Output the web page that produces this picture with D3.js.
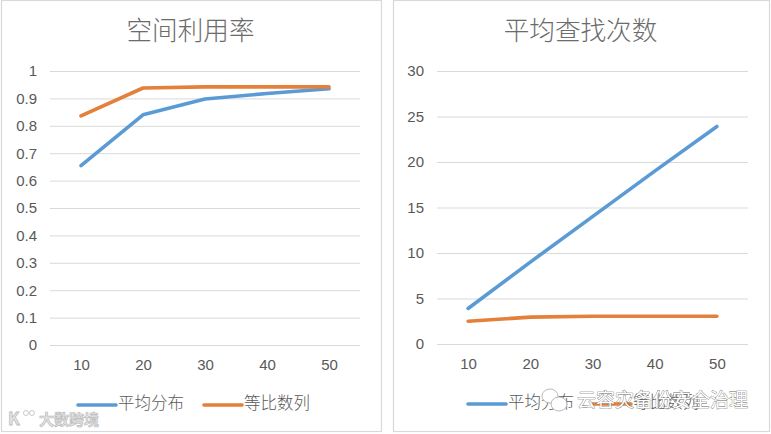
<!DOCTYPE html>
<html lang="zh">
<head>
  <meta charset="UTF-8" />
  <title>空间利用率 / 平均查找次数</title>
  <script src="https://d3js.org/d3.v7.min.js"></script>
  <style>
    html, body { margin: 0; padding: 0; background: #fff; overflow: hidden; }
    svg { display: block; font-family: "Noto Sans CJK SC", "Liberation Sans", sans-serif; }
    .frame { fill: #fff; stroke: #d9d9d9; stroke-width: 1.2px; }
    .title { fill: #6b6b6b; font-size: 25.6px; font-weight: 300; text-anchor: middle; }
    .axis text { fill: #595959; font-size: 15px; font-family: "Liberation Sans", sans-serif; }
    .axis path, .axis line { stroke: none; }
    .axis .tick line.grid { stroke: #d9d9d9; stroke-width: 1px; }
    .legend { fill: #595959; font-size: 16.5px; font-weight: 300; }
    .mark { fill: #e4e4e4; stroke: #bdbdbd; stroke-width: .7px; font-weight: 700; }
  </style>
</head>
<body>
  <svg id="chart" width="771" height="434"></svg>
  <script>
    const categories = [10, 20, 30, 40, 50];
    const seriesNames = ["平均分布", "等比数列"];
    const colors = ["#5b9bd5", "#e4803a"];

    const utilEven = [0.655, 0.84, 0.898, 0.918, 0.935];
    const utilRatio = [0.836, 0.938, 0.942, 0.942, 0.942];
    const utilTicks = [0, 0.1, 0.2, 0.3, 0.4, 0.5, 0.6, 0.7, 0.8, 0.9, 1];

    const findEven = [3.9, 9, 14, 19, 23.9];
    const findRatio = [2.5, 2.95, 3.05, 3.05, 3.05];
    const findTicks = [0, 5, 10, 15, 20, 25, 30];

    const svg = d3.select("#chart");

    function drawPanel(p) {
      const g = svg.append("g");
      g.append("rect").attr("class", "frame")
        .attr("x", p.left).attr("y", p.top).attr("width", p.width).attr("height", p.height);

      g.append("text").attr("class", "title")
        .attr("x", p.left + p.width / 2 - 1).attr("y", 40)
        .text(p.title);

      const x = d3.scalePoint().domain(categories).range(p.xRange).padding(0.5);
      const y = d3.scaleLinear().domain(p.domain).range(p.yRange);

      const yAxis = g.append("g").attr("class", "axis")
        .attr("transform", `translate(${p.xRange[0]},0)`)
        .call(d3.axisLeft(y).tickValues(p.ticks).tickFormat(d => d).tickSize(0).tickPadding(13));
      yAxis.selectAll(".tick").append("line").attr("class", "grid")
        .attr("x1", 0).attr("x2", p.xRange[1] - p.xRange[0]);

      g.append("g").attr("class", "axis")
        .attr("transform", `translate(0,${p.yRange[0]})`)
        .call(d3.axisBottom(x).tickSize(0).tickPadding(14))
        .select(".domain").remove();

      const line = d3.line().x((d, i) => x(categories[i])).y(d => y(d));
      p.series.forEach((values, i) => {
        g.append("path").datum(values)
          .attr("fill", "none").attr("stroke", colors[i]).attr("stroke-width", 3.6)
          .attr("stroke-linecap", "round").attr("stroke-linejoin", "round")
          .attr("d", line);
      });

      // legend
      p.legendX.forEach((lx, i) => {
        g.append("line")
          .attr("x1", lx).attr("x2", lx + 38).attr("y1", p.legendY).attr("y2", p.legendY)
          .attr("stroke", colors[i]).attr("stroke-width", 3.6).attr("stroke-linecap", "round");
        g.append("text").attr("class", "legend")
          .attr("x", lx + 40).attr("y", p.legendY + 4).text(seriesNames[i]);
      });
    }

    drawPanel({
      title: "空间利用率", left: 1.5, top: 0.5, width: 380, height: 431,
      xRange: [50, 360], yRange: [345, 71], domain: [0, 1], ticks: utilTicks,
      series: [utilEven, utilRatio], legendX: [78, 204], legendY: 405
    });
    drawPanel({
      title: "平均查找次数", left: 393.5, top: 0.5, width: 376, height: 431,
      xRange: [437, 748], yRange: [344, 71], domain: [0, 30], ticks: findTicks,
      series: [findEven, findRatio], legendX: [468, 593], legendY: 404
    });

    // watermarks sitting on top of the picture
    const logo = svg.append("g").attr("fill", "#e4e4e4").attr("stroke", "#bdbdbd").attr("stroke-width", .8);
    logo.append("text").attr("x", 8).attr("y", 425).attr("font-size", 17).attr("font-weight", 700).text("K");
    logo.append("circle").attr("cx", 26).attr("cy", 413).attr("r", 2.5).attr("fill", "none");
    logo.append("circle").attr("cx", 32).attr("cy", 413).attr("r", 2.5).attr("fill", "none");
    svg.append("text").attr("class", "mark")
      .attr("x", 39).attr("y", 425).attr("font-size", 15).text("大数跨境");

    const wechat = svg.append("g").attr("fill", "#fff").attr("stroke", "#a8a8a8").attr("stroke-width", .8);
    wechat.append("ellipse").attr("cx", 550).attr("cy", 396).attr("rx", 8).attr("ry", 7);
    wechat.append("ellipse").attr("cx", 559).attr("cy", 404).attr("rx", 8).attr("ry", 7);
    svg.append("text")
      .attr("x", 577).attr("y", 407).attr("font-size", 19)
      .attr("fill", "#fff").attr("stroke", "#666").attr("stroke-width", .7)
      .attr("paint-order", "stroke").text("云容灾备份安全治理");
  </script>
</body>
</html>
